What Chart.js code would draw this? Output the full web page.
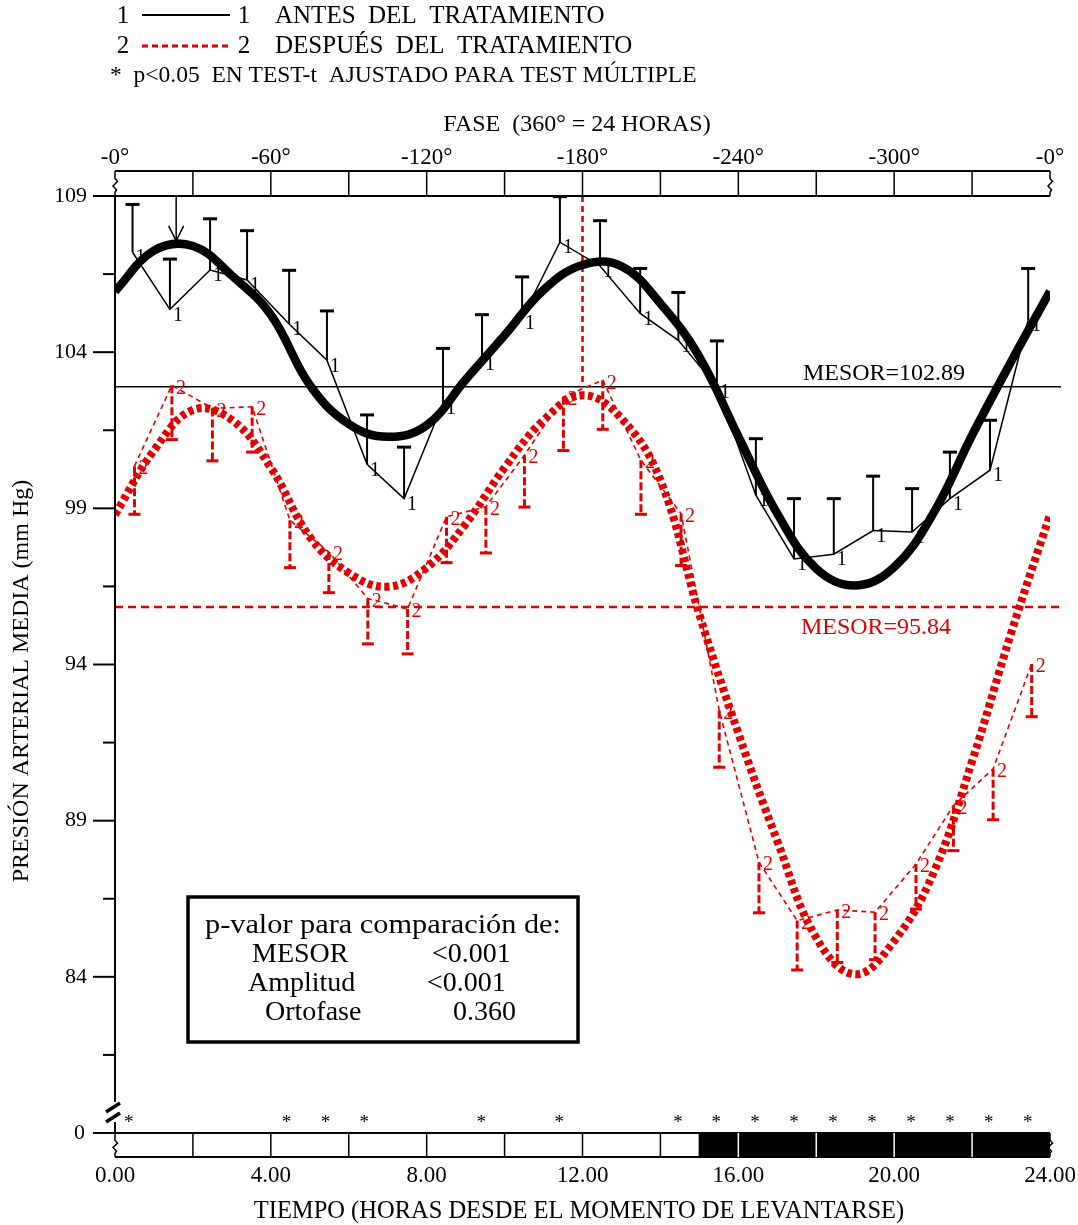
<!DOCTYPE html>
<html>
<head>
<meta charset="utf-8">
<title>Presión arterial media antes y después del tratamiento</title>
<script src="https://cdn.jsdelivr.net/npm/chart.js@4.4.1/dist/chart.umd.min.js"></script>
<style>
  html, body { margin: 0; padding: 0; background: #fff; }
  #wrap { width: 1078px; height: 1225px; }
</style>
</head>
<body>
<div id="wrap"><canvas id="bp" width="1078" height="1225"></canvas></div>
<script>
"use strict";

// Hourly means, before treatment (1): hours after waking, value, top of error bar
var hoursBefore = [0.45, 1.41, 2.44, 3.39, 4.47, 5.44, 6.47, 7.42, 8.42, 9.42, 10.45, 11.42,
                   12.45, 13.48, 14.46, 15.45, 16.45, 17.43, 18.45, 19.46, 20.46, 21.43, 22.46, 23.44];
var mapBefore = [107.2, 105.37, 106.63, 106.31, 104.9, 103.74, 100.41, 99.31, 102.37, 103.8, 105.1, 107.52,
                 106.76, 105.24, 104.38, 102.89, 99.42, 97.38, 97.53, 98.29, 98.24, 99.31, 100.22, 105.03];
var barTopBefore = [108.73, 106.98, 108.27, 107.89, 106.62, 105.32, 101.99, 100.96, 104.12, 105.2, 106.41, 108.98,
                    108.21, 106.68, 105.91, 104.36, 101.23, 99.31, 99.31, 100.03, 99.63, 100.8, 101.82, 106.68];

// Hourly means, after treatment (2): value and bottom of error bar
var hoursAfter = [0.5, 1.46, 2.5, 3.52, 4.49, 5.49, 6.49, 7.51, 8.51, 9.52, 10.51, 11.51,
                  12.52, 13.5, 14.53, 15.51, 16.53, 17.51, 18.54, 19.51, 20.56, 21.52, 22.54, 23.53];
var mapAfter = [100.35, 102.94, 102.2, 102.25, 98.62, 97.6, 96.11, 95.78, 98.73, 99.05, 100.7, 102.57,
                103.1, 100.54, 98.83, 92.53, 87.67, 85.8, 86.14, 86.07, 87.61, 89.48, 90.66, 94.02];
var barBottomAfter = [98.81, 101.2, 100.52, 100.8, 97.1, 96.3, 94.66, 94.34, 97.26, 97.57, 99.04, 100.85,
                      101.53, 98.81, 97.17, 90.71, 86.05, 84.22, 84.46, 84.55, 86.17, 88.04, 89.03, 92.33];

// Fitted curves, sampled every hour
var fitHours = [0, 1, 2, 3, 4, 5, 6, 7, 8, 9, 10, 11, 12, 13, 14, 15, 16, 17, 18, 19, 20, 21, 22, 23, 24];
var fitBefore = [105.95, 107.25, 107.4, 106.45, 105.2, 102.95, 101.7, 101.29, 101.66, 103.12, 104.54, 105.99,
                 106.79, 106.75, 105.56, 103.85, 101.3, 98.83, 97.07, 96.53, 97.12, 98.83, 101.34, 103.69, 105.95];
var fitAfter = [98.8, 100.85, 102.15, 101.83, 100.3, 98.09, 96.93, 96.49, 97.1, 98.5, 100.3, 101.82,
                102.62, 101.88, 99.9, 95.6, 91.8, 88.35, 85.25, 84.08, 85.15, 87.3, 90.9, 95.0, 98.8];

var mesorBefore = 102.89;
var mesorAfter = 95.84;
var acroBefore = 1.57;      // hour of the arrow
var acroBeforeValue = 107.5;
var acroAfter = 12.0;
var acroAfterValue = 102.9;

// hours with p<0.05
var starHours = [0.35, 4.4, 5.4, 6.4, 9.4, 11.4, 14.45, 15.43, 16.43, 17.43, 18.43, 19.43, 20.43, 21.43, 22.43, 23.43];

var yMajor = [109, 104, 99, 94, 89, 84];
var yMinor = [106.5, 101.5, 96.5, 91.5, 86.5, 81.5];
var yBottom = 79;
var xTicks = [0, 4, 8, 12, 16, 20, 24];
var xTickLabels = ["0.00", "4.00", "8.00", "12.00", "16.00", "20.00", "24.00"];
var phaseLabels = ["-0°", "-60°", "-120°", "-180°", "-240°", "-300°", "-0°"];
var boxHours = [2, 4, 6, 8, 10, 12, 14, 16, 18, 20, 22];
var darkStart = 15;

var SERIF = '"Liberation Serif", "Times New Roman", serif';
var RED = '#e00000';

// text drawn centred on y; if width is given the string is stretched to it
function txt(ctx, s, x, y, size, align, color, width) {
    ctx.save();
    ctx.font = size + 'px ' + SERIF;
    ctx.textAlign = align || 'left';
    ctx.textBaseline = 'middle';
    ctx.fillStyle = color || '#000';
    if (width) {
        var k = width / ctx.measureText(s).width;
        ctx.translate(x, y);
        ctx.scale(k, 1);
        ctx.fillText(s, 0, 0);
    } else {
        ctx.fillText(s, x, y);
    }
    ctx.restore();
}

function line(ctx, x1, y1, x2, y2, w, color, dash) {
    ctx.save();
    ctx.beginPath();
    ctx.lineWidth = w;
    ctx.strokeStyle = color || '#000';
    ctx.setLineDash(dash || []);
    ctx.moveTo(x1, y1);
    ctx.lineTo(x2, y2);
    ctx.stroke();
    ctx.restore();
}

// small wavy end of the time boxes
function squiggle(ctx, x, top, bottom) {
    var h = bottom - top;
    ctx.save();
    ctx.beginPath();
    ctx.lineWidth = 1.5;
    ctx.strokeStyle = '#000';
    ctx.moveTo(x, top);
    ctx.lineTo(x, top + h * 0.3);
    ctx.lineTo(x + 2.5, top + h * 0.42);
    ctx.lineTo(x - 2, top + h * 0.6);
    ctx.lineTo(x + 1.5, top + h * 0.75);
    ctx.lineTo(x, top + h * 0.85);
    ctx.lineTo(x, bottom);
    ctx.stroke();
    ctx.restore();
}

var decor = {
    id: 'decor',
    beforeDatasetsDraw: function (chart) {
        var ctx = chart.ctx, sx = chart.scales.x, sy = chart.scales.y;
        var a = chart.chartArea;

        // MESOR lines
        line(ctx, a.left, sy.getPixelForValue(mesorBefore), a.right + 11, sy.getPixelForValue(mesorBefore), 1.5, '#000');
        line(ctx, a.left, sy.getPixelForValue(mesorAfter), a.right + 11, sy.getPixelForValue(mesorAfter), 2.6, RED, [8, 5]);

        // acrophase of the after curve
        var ax = sx.getPixelForValue(acroAfter);
        line(ctx, ax, a.top, ax, sy.getPixelForValue(acroAfterValue), 2.6, RED, [6, 4]);

        // acrophase arrow of the before curve
        var bx = sx.getPixelForValue(acroBefore), by = sy.getPixelForValue(acroBeforeValue);
        line(ctx, bx, a.top, bx, by - 2, 1.5, '#000');
        ctx.save();
        ctx.beginPath();
        ctx.lineWidth = 1.5;
        ctx.strokeStyle = '#000';
        ctx.moveTo(bx - 7.5, by - 17);
        ctx.lineTo(bx, by - 2);
        ctx.lineTo(bx + 7.5, by - 17);
        ctx.stroke();
        ctx.restore();

        // error bars, before (upwards)
        hoursBefore.forEach(function (h, i) {
            var x = sx.getPixelForValue(h);
            var y0 = sy.getPixelForValue(mapBefore[i]), y1 = sy.getPixelForValue(barTopBefore[i]);
            line(ctx, x, y0, x, y1, 2, '#000');
            line(ctx, x - 7, y1, x + 7, y1, 3, '#000');
        });
        // error bars, after (downwards, dashed)
        hoursAfter.forEach(function (h, i) {
            var x = sx.getPixelForValue(h);
            var y0 = sy.getPixelForValue(mapAfter[i]), y1 = sy.getPixelForValue(barBottomAfter[i]);
            line(ctx, x, y0, x, y1, 3, RED, [8, 3]);
            line(ctx, x - 6, y1, x + 6, y1, 3, RED);
        });
    },
    afterDatasetsDraw: function (chart) {
        var ctx = chart.ctx, sx = chart.scales.x, sy = chart.scales.y;
        var a = chart.chartArea;

        // point numbers
        hoursBefore.forEach(function (h, i) {
            txt(ctx, '1', sx.getPixelForValue(h) + 8, sy.getPixelForValue(mapBefore[i]) + 6, 20, 'center');
        });
        hoursAfter.forEach(function (h, i) {
            txt(ctx, '2', sx.getPixelForValue(h) + 9, sy.getPixelForValue(mapAfter[i]) + 3, 20, 'center', RED);
        });

        // y axis with break
        var yBreak = sy.getPixelForValue(yBottom);
        line(ctx, a.left, a.top, a.left, yBreak - 31, 2);
        line(ctx, a.left, yBreak - 11, a.left, yBreak, 2);
        line(ctx, a.left - 9, yBreak - 21, a.left + 5, yBreak - 30, 3.5);
        line(ctx, a.left - 9, yBreak - 11, a.left + 5, yBreak - 20, 3.5);
        yMajor.forEach(function (v) {
            var y = sy.getPixelForValue(v);
            line(ctx, a.left - 22, y, a.left, y, 2);
            txt(ctx, String(v), a.left - 28, y, 22, 'right');
        });
        yMinor.forEach(function (v) {
            var y = sy.getPixelForValue(v);
            line(ctx, a.left - 12, y, a.left, y, 2);
        });
        txt(ctx, '0', a.left - 30, yBreak, 22, 'right');

        // top phase box
        var pt = a.top - 25;
        line(ctx, a.left, pt, a.right, pt, 2);
        line(ctx, a.left - 22, a.top, a.right, a.top, 2);
        squiggle(ctx, a.left, pt, a.top);
        squiggle(ctx, a.right, pt, a.top);
        boxHours.forEach(function (h) {
            var x = sx.getPixelForValue(h);
            line(ctx, x, pt, x, a.top, 1.5);
        });
        xTicks.forEach(function (h, i) {
            txt(ctx, phaseLabels[i], sx.getPixelForValue(h), pt - 13, 23, 'center');
        });
        txt(ctx, 'FASE  (360° = 24 HORAS)', 577, 125, 24, 'center');

        // bottom light/dark box
        var bt = yBreak, bb = yBreak + 24;
        var xd = sx.getPixelForValue(darkStart);
        ctx.fillStyle = '#000';
        ctx.fillRect(xd, bt, a.right - xd, bb - bt);
        line(ctx, a.left - 22, bt, a.right, bt, 2);
        line(ctx, a.left, bb, a.right, bb, 2);
        squiggle(ctx, a.left, bt, bb);
        squiggle(ctx, a.right, bt, bb);
        boxHours.forEach(function (h) {
            var x = sx.getPixelForValue(h);
            line(ctx, x, bt, x, bb, 1.5, h > darkStart ? '#fff' : '#000');
        });
        line(ctx, xd, bt, xd, bb, 1.5);
        xTicks.forEach(function (h, i) {
            txt(ctx, xTickLabels[i], sx.getPixelForValue(h), bb + 19, 23, 'center');
        });
        txt(ctx, 'TIEMPO (HORAS DESDE EL MOMENTO DE LEVANTARSE)', 579, 1212, 24.5, 'center');

        // significance stars
        starHours.forEach(function (h) {
            txt(ctx, '*', sx.getPixelForValue(h), yBreak - 10, 19, 'center');
        });

        // MESOR labels
        txt(ctx, 'MESOR=' + mesorBefore.toFixed(2), 884, sy.getPixelForValue(mesorBefore) - 13, 24, 'center');
        txt(ctx, 'MESOR=' + mesorAfter.toFixed(2), 876, sy.getPixelForValue(mesorAfter) + 21, 24, 'center', RED);

        // y title
        ctx.save();
        ctx.translate(22, 681);
        ctx.rotate(-Math.PI / 2);
        txt(ctx, 'PRESIÓN ARTERIAL MEDIA (mm Hg)', 0, 0, 24, 'center');
        ctx.restore();

        // legend
        txt(ctx, '1', 123, 16, 25, 'center');
        line(ctx, 142, 15, 230, 15, 2);
        txt(ctx, '1', 244, 16, 25, 'center');
        txt(ctx, 'ANTES  DEL  TRATAMIENTO', 275, 16, 25, 'left');
        txt(ctx, '2', 123, 46, 25, 'center');
        line(ctx, 142, 46, 230, 46, 3, RED, [6, 4]);
        txt(ctx, '2', 244, 46, 25, 'center');
        txt(ctx, 'DESPUÉS  DEL  TRATAMIENTO', 275, 46, 25, 'left');
        txt(ctx, '*  p<0.05  EN TEST-t  AJUSTADO PARA TEST MÚLTIPLE', 110, 76, 23.5, 'left');

        // p-value box
        ctx.save();
        ctx.lineWidth = 3.5;
        ctx.strokeStyle = '#000';
        ctx.strokeRect(188, 897, 390, 145);
        ctx.restore();
        txt(ctx, 'p-valor para comparación de:', 205, 926, 28, 'left', '#000', 356);
        txt(ctx, 'MESOR', 252, 955, 28, 'left');
        txt(ctx, '<0.001', 432, 955, 28, 'left');
        txt(ctx, 'Amplitud', 248, 984, 28, 'left');
        txt(ctx, '<0.001', 427, 984, 28, 'left');
        txt(ctx, 'Ortofase', 265, 1013, 28, 'left');
        txt(ctx, '0.360', 453, 1013, 28, 'left');
    }
};

function pts(xs, ys) {
    return xs.map(function (x, i) { return { x: x, y: ys[i] }; });
}

new Chart(document.getElementById('bp'), {
    type: 'line',
    data: {
        datasets: [
            {
                label: 'ajuste 1',
                data: pts(fitHours, fitBefore),
                borderColor: '#000',
                borderWidth: 8.5,
                tension: 0.4,
                pointRadius: 0
            },
            {
                label: 'ajuste 2',
                data: pts(fitHours, fitAfter),
                borderColor: RED,
                borderWidth: 8,
                borderDash: [5, 3.5],
                tension: 0.4,
                pointRadius: 0
            },
            {
                label: 'ANTES DEL TRATAMIENTO',
                data: pts(hoursBefore, mapBefore),
                borderColor: '#000',
                borderWidth: 1.5,
                tension: 0,
                pointRadius: 0
            },
            {
                label: 'DESPUÉS DEL TRATAMIENTO',
                data: pts(hoursAfter, mapAfter),
                borderColor: RED,
                borderWidth: 1.6,
                borderDash: [5, 4],
                tension: 0,
                pointRadius: 0
            }
        ]
    },
    options: {
        responsive: false,
        animation: false,
        layout: { padding: { left: 115, right: 28, top: 196, bottom: 92 } },
        scales: {
            x: { type: 'linear', min: 0, max: 24, display: false },
            y: { type: 'linear', min: yBottom, max: 109, display: false }
        },
        plugins: {
            legend: { display: false },
            tooltip: { enabled: false }
        }
    },
    plugins: [decor]
});
</script>
</body>
</html>
